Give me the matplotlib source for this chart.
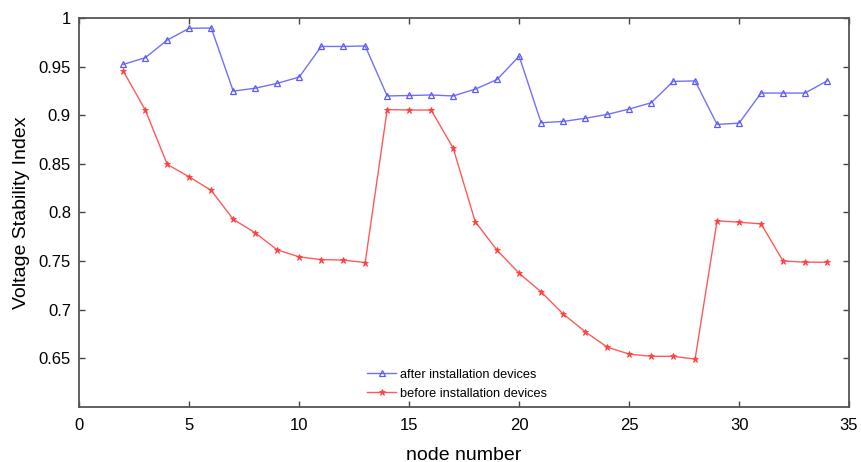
import matplotlib
matplotlib.use("Agg")
import matplotlib.pyplot as plt

plt.rcParams['font.family'] = ['Liberation Sans', 'DejaVu Sans']

nodes = list(range(2, 35))
after = [0.9525, 0.9594, 0.9776, 0.9897, 0.990, 0.925, 0.928, 0.933, 0.9395,
         0.971, 0.971, 0.9715, 0.920, 0.9205, 0.921, 0.920, 0.927, 0.937, 0.961,
         0.8924, 0.8938, 0.897, 0.901, 0.9065, 0.913, 0.935, 0.9355, 0.8907,
         0.892, 0.923, 0.923, 0.923, 0.9355]
before = [0.9457, 0.9055, 0.8495, 0.8367, 0.8227, 0.793, 0.779, 0.7615, 0.7543,
          0.7515, 0.751, 0.7485, 0.906, 0.9055, 0.9055, 0.8663, 0.7907, 0.761,
          0.7374, 0.7182, 0.6955, 0.6773, 0.6614, 0.6542, 0.6519, 0.6519, 0.649,
          0.7914, 0.790, 0.7883, 0.7501, 0.7488, 0.7488]
xticks = [0, 5, 10, 15, 20, 25, 30, 35]
yticks = [0.65, 0.7, 0.75, 0.8, 0.85, 0.9, 0.95, 1]
ytick_labels = ['0.65', '0.7', '0.75', '0.8', '0.85', '0.9', '0.95', '1']

fig = plt.figure(figsize=(8.61, 4.62), dpi=100)
ax = fig.add_axes([0.0921, 0.1197, 0.894, 0.8407])

ax.plot(nodes, after, color='#7070ff', lw=1.0, marker='^', ms=5,
        mfc='none', mec='#5a5aff', mew=0.9, label='after installation devices')
ax.plot(nodes, before, color='#ff5a5a', lw=1.0, marker='*', ms=4.5,
        mfc='#ff4040', mec='#ff4040', mew=0.6, label='before installation devices')

ax.set_xlim(0, 35)
ax.set_ylim(0.6, 1.0)
ax.set_xticks(xticks)
ax.set_yticks(yticks)
ax.set_yticklabels(ytick_labels)
ax.tick_params(direction='in', top=True, right=True, length=4, width=1,
               labelsize=12, colors='#444444', labelcolor='black', pad=6)
ax.tick_params(axis='x', pad=8)
for s in ax.spines.values():
    s.set_color('#555555')
    s.set_linewidth(1.3)

ax.set_xlabel('node number', fontsize=14, labelpad=10)
ax.set_ylabel('Voltage Stability Index', fontsize=14, labelpad=6)

ax.legend(loc='lower left', bbox_to_anchor=(0.367, 0.005), frameon=False,
          fontsize=9.2, handlelength=2.3, handletextpad=0.3, labelspacing=0.55,
          borderaxespad=0)

fig.savefig('out.png', dpi=100)
